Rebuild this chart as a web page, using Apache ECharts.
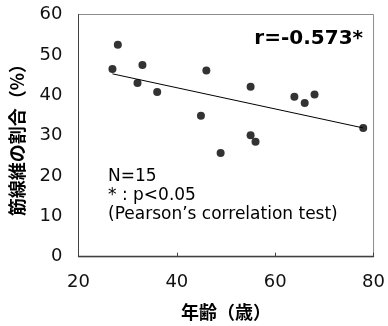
<!DOCTYPE html>
<html>
<head>
<meta charset="utf-8">
<script src="https://cdn.jsdelivr.net/npm/echarts@6/dist/echarts.min.js"></script>
<style>
  html, body { margin: 0; padding: 0; background: #fff; }
  #chart { width: 388px; height: 326px; }
</style>
</head>
<body>
<div id="chart"></div>
<script>
  // 年齢と筋線維の割合 (読み取り値)
  const ages = [26.9, 28.0, 32.0, 33.0, 36.0, 44.9, 46.0, 48.9, 55.0, 55.0, 56.0, 63.9, 66.0, 68.0, 77.9];
  const fiberPct = [46.5, 52.5, 43.0, 47.5, 40.8, 34.9, 46.1, 25.7, 42.1, 30.1, 28.5, 39.6, 38.1, 40.2, 31.9];
  // 回帰直線の両端
  const trendX = [26.9, 77.9];
  const trendY = [45.3, 31.9];
  const xTicks = [20, 40, 60, 80];
  const yTicks = [0, 10, 20, 30, 40, 50, 60];

  const points = ages.map((a, i) => [a, fiberPct[i]]);
  const trend = trendX.map((x, i) => [x, trendY[i]]);

  const latin = "DejaVu Sans";
  const cjk = "Noto Sans CJK JP";

  const chart = echarts.init(document.getElementById("chart"), null, { renderer: "canvas" });

  chart.setOption({
    animation: false,
    grid: {
      left: 78.5,
      right: 7.3,
      top: 14.5,
      bottom: 69.3,
      show: true,
      borderColor: "#8c8c8c",
      borderWidth: 1,
    },
    xAxis: {
      type: "value",
      min: xTicks[0],
      max: xTicks[xTicks.length - 1],
      interval: 20,
      name: "年齢（歳）",
      nameLocation: "middle",
      nameGap: 46,
      nameTextStyle: { fontFamily: cjk, fontWeight: "bold", fontSize: 18, color: "#000" },
      axisLine: { lineStyle: { color: "#404040", width: 1.3 } },
      axisTick: { show: true, inside: true, length: 4, lineStyle: { color: "#404040" } },
      splitLine: { show: false },
      axisLabel: { fontFamily: latin, fontSize: 18, color: "#111", margin: 17 },
    },
    yAxis: {
      type: "value",
      min: yTicks[0],
      max: yTicks[yTicks.length - 1],
      interval: 10,
      name: "筋線維の割合（%）",
      nameLocation: "middle",
      nameGap: 52,
      nameTextStyle: { fontFamily: cjk, fontWeight: "bold", fontSize: 18, color: "#000" },
      axisLine: { show: true, lineStyle: { color: "#404040", width: 1 } },
      axisTick: { show: false },
      splitLine: { show: false },
      axisLabel: { fontFamily: latin, fontSize: 18, color: "#111", margin: 16 },
    },
    graphic: [
      {
        type: "text",
        right: 25,
        top: 29,
        style: { text: "r=-0.573*", font: "bold 20px 'DejaVu Sans'", fill: "#000" },
      },
      {
        type: "text",
        left: 108,
        top: 167,
        style: {
          text: "N=15\n* : p<0.05\n(Pearson’s correlation test)",
          font: "17px 'DejaVu Sans'",
          lineHeight: 19,
          fill: "#000",
        },
      },
    ],
    series: [
      {
        type: "line",
        data: trend,
        symbol: "none",
        lineStyle: { color: "#000", width: 1 },
        silent: true,
        z: 1,
      },
      {
        type: "scatter",
        data: points,
        symbol: "circle",
        symbolSize: 8,
        itemStyle: { color: "#000" },
        z: 2,
      },
    ],
  });
</script>
</body>
</html>
